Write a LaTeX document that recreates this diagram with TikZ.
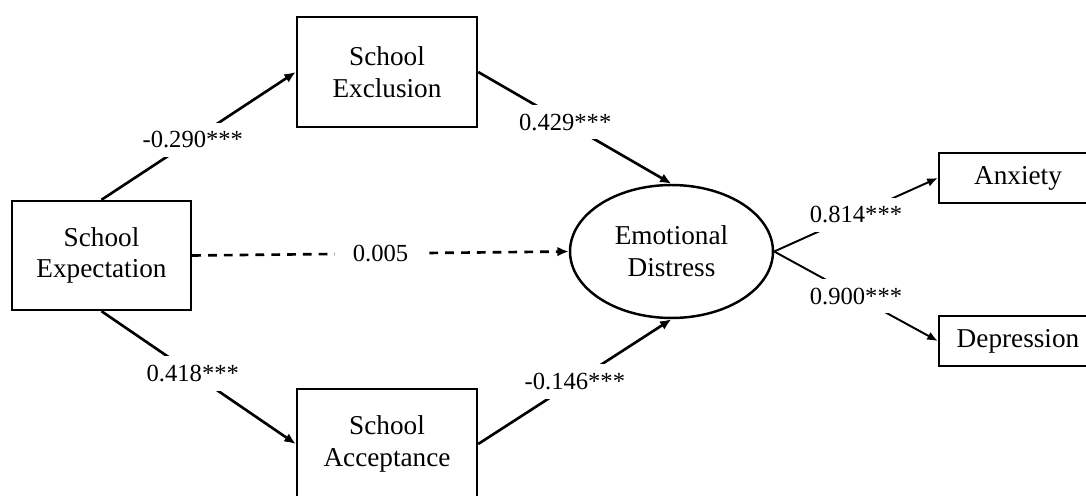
\documentclass[tikz,border=0pt]{standalone}
\usepackage{fontspec}
\setmainfont{Liberation Serif}
\usetikzlibrary{positioning,calc,arrows.meta,shapes.geometric}

\tikzset{
	var/.style={draw=black,line width=1.4pt,align=center,font=\fontsize{15.5}{18}\selectfont},
	latent/.style={var,ellipse,inner sep=0pt,minimum width=4.06cm,minimum height=2.66cm},
	path/.style={-{Latex[length=6.5pt,width=5.5pt]},line width=1.5pt},
	ind/.style={-{Latex[length=6pt,width=5pt]},line width=1.1pt},
	coef/.style={fill=white,inner sep=5pt,font=\fontsize{14}{16}\selectfont}
}

\begin{document}
\begin{tikzpicture}[x=0.02cm,y=-0.02cm]
		\useasboundingbox (0,0) rectangle (1086,496);
		
		\node[var,minimum width=3.58cm,minimum height=2.18cm] (exp) at (101.5,255.5) {School\\Expectation};
		\node[var,minimum width=3.6cm,minimum height=2.2cm] (excl) at (387,72) {School\\Exclusion};
		\node[var,minimum width=3.6cm,minimum height=2.2cm] (acc) at (387,444) {School\\Acceptance};
		\node[latent] (emo) at (671.5,251.5) {Emotional\\Distress};
		\node[var,minimum width=3.16cm,minimum height=1cm] (anx) at (1018,178) {Anxiety};
		\node[var,minimum width=3.16cm,minimum height=1cm] (dep) at (1018,341) {Depression};
		
		\draw[path] (exp.north)--(excl.west) node[coef,pos=0.47] {-0.290***};
		\draw[path] (exp.south)--(acc.west) node[coef,pos=0.47] {0.418***};
		\draw[path] (excl.east)--(emo.north) node[coef,pos=0.45] {0.429***};
		\draw[path] (acc.east)--(emo.south) node[coef,midway] {-0.146***};
		\draw[path,dash pattern=on 5pt off 4pt] (exp.east)--(emo.west) node[coef,midway,inner sep=10pt] {0.005};
		
		\draw[ind] (emo.east)--(anx.west) node[coef,midway] {0.814***};
		\draw[ind] (emo.east)--(dep.west) node[coef,midway] {0.900***};
	\end{tikzpicture}
\end{document}
